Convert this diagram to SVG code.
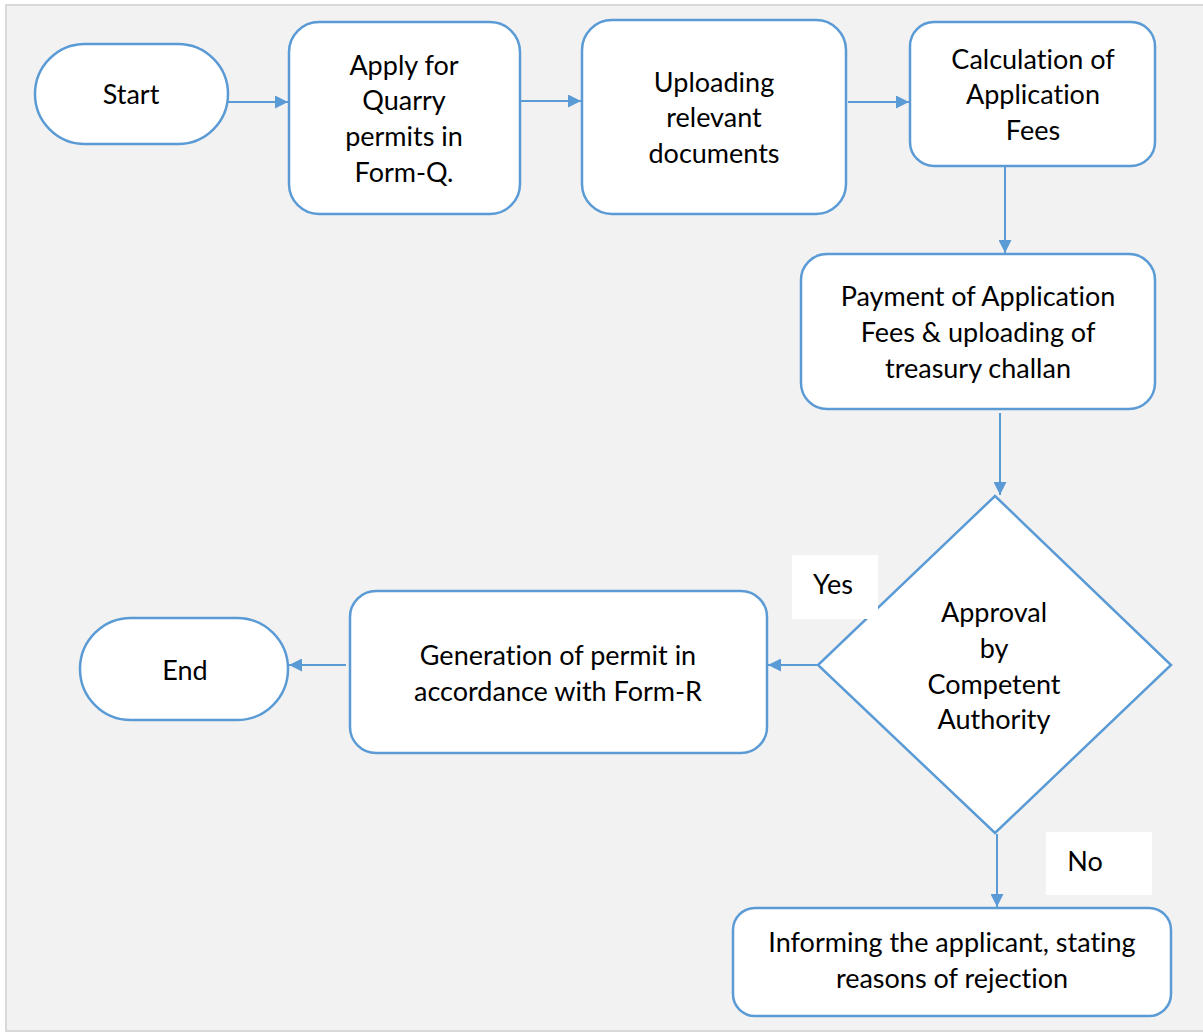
<svg xmlns="http://www.w3.org/2000/svg" width="1203" height="1034" viewBox="0 0 1203 1034">
  <style>
    .box { fill: #ffffff; stroke: #5b9bd5; stroke-width: 2.5; }
    .lbl { fill: #ffffff; stroke: none; }
    .conn { stroke: #5b9bd5; stroke-width: 2; fill: none; marker-end: url(#arrow); }
    text { font-family: "Lato", "Open Sans", "Liberation Sans", sans-serif; font-size: 27px; fill: #000000; text-anchor: middle; font-variant-ligatures: none; font-feature-settings: "liga" 0, "clig" 0; }
  </style>
  <defs>
    <marker id="arrow" viewBox="0 0 10 10" refX="10" refY="5" markerWidth="13" markerHeight="13" markerUnits="userSpaceOnUse" orient="auto">
      <path d="M0,0 L10,5 L0,10 z" fill="#5b9bd5"/>
    </marker>
  </defs>

  <!-- page background -->
  <rect x="0" y="0" width="1203" height="1034" fill="#ffffff"/>
  <rect x="6" y="5" width="1200" height="1026" fill="#f2f2f2" stroke="#d9d9d9" stroke-width="2"/>

  <!-- connectors -->
  <g id="connectors">
    <line class="conn" x1="228" y1="102" x2="288" y2="102"/>
    <line class="conn" x1="520" y1="101" x2="581" y2="101"/>
    <line class="conn" x1="848" y1="102" x2="909" y2="102"/>
    <line class="conn" x1="1005" y1="166" x2="1005" y2="253"/>
    <line class="conn" x1="1000" y1="413" x2="1000" y2="495"/>
    <line class="conn" x1="818" y1="665" x2="768" y2="665"/>
    <line class="conn" x1="346" y1="665" x2="289" y2="665"/>
    <line class="conn" x1="997" y1="834" x2="997" y2="907"/>
  </g>

  <g id="start">
    <rect class="box" x="35" y="44" width="193" height="100" rx="50"/>
    <text x="131" y="104">Start</text>
  </g>

  <g id="apply">
    <rect class="box" x="289" y="22" width="231" height="192" rx="30"/>
    <text x="404" y="75">Apply for</text>
    <text x="404" y="110">Quarry</text>
    <text x="404" y="146">permits in</text>
    <text x="404" y="182">Form-Q.</text>
  </g>

  <g id="uploading">
    <rect class="box" x="582" y="20" width="264" height="194" rx="30"/>
    <text x="714" y="92">Uploading</text>
    <text x="714" y="127">relevant</text>
    <text x="714" y="163">documents</text>
  </g>

  <g id="calculation">
    <rect class="box" x="910" y="22" width="245" height="144" rx="24"/>
    <text x="1033" y="69">Calculation of</text>
    <text x="1033" y="104">Application</text>
    <text x="1033" y="140">Fees</text>
  </g>

  <g id="payment">
    <rect class="box" x="801" y="254" width="354" height="155" rx="26"/>
    <text x="978" y="306">Payment of Application</text>
    <text x="978" y="342">Fees &amp; uploading of</text>
    <text x="978" y="378">treasury challan</text>
  </g>

  <g id="approval">
    <polygon class="box" points="995,496 1171,665 995,833 818,665"/>
    <text x="994" y="622">Approval</text>
    <text x="994" y="658">by</text>
    <text x="994" y="694">Competent</text>
    <text x="994" y="729">Authority</text>
  </g>

  <g id="yes-label">
    <rect class="lbl" x="792" y="555" width="86" height="64"/>
    <text x="833" y="594">Yes</text>
  </g>

  <g id="generation">
    <rect class="box" x="350" y="591" width="417" height="162" rx="26"/>
    <text x="558" y="665">Generation of permit in</text>
    <text x="558" y="701">accordance with Form-R</text>
  </g>

  <g id="end">
    <rect class="box" x="80" y="618" width="208" height="102" rx="51"/>
    <text x="185" y="680">End</text>
  </g>

  <g id="no-label">
    <rect class="lbl" x="1046" y="832" width="106" height="63"/>
    <text x="1085" y="871">No</text>
  </g>

  <g id="informing">
    <rect class="box" x="733" y="908" width="438" height="108" rx="22"/>
    <text x="952" y="952">Informing the applicant, stating</text>
    <text x="952" y="988">reasons of rejection</text>
  </g>
</svg>
